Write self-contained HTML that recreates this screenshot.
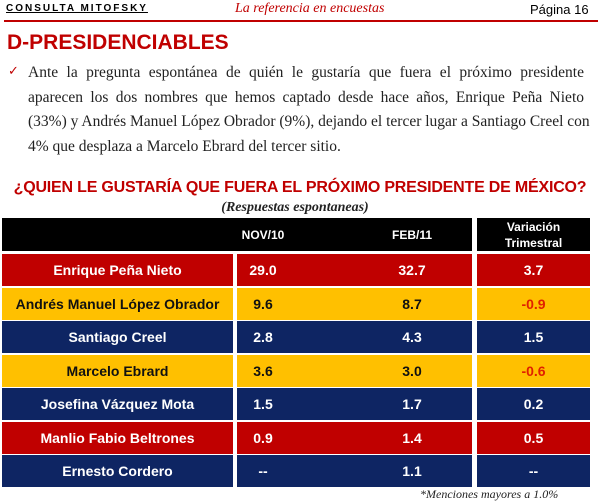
<!DOCTYPE html>
<html><head><meta charset="utf-8"><style>
body{margin:0;width:600px;height:504px;background:#fff;position:relative;overflow:hidden;font-family:"Liberation Sans",sans-serif}
.a{position:absolute}
.row div{position:absolute;display:flex;align-items:center;justify-content:center;font-weight:bold;font-size:14px;color:#fff}
.r{background:#c00000}.y{background:#ffc000}.n{background:#0e2563}
.y div,div.y{color:#111}
p.t{margin:0;font-family:"Liberation Serif",serif;font-size:15.5px;color:#222;text-align:justify;text-align-last:justify;line-height:24.5px;white-space:nowrap}
</style></head><body>
<div class="a" style="left:6px;top:3px;font-size:10px;font-weight:bold;letter-spacing:2px;text-decoration:underline">CONSULTA MITOFSKY</div>
<div class="a" style="left:235px;top:1px;font-family:'Liberation Serif',serif;font-style:italic;font-size:14px;color:#c00000">La referencia en encuestas</div>
<div class="a" style="left:530px;top:2px;font-size:13px">Página 16</div>
<div class="a" style="left:4px;top:20px;width:594px;height:2px;background:#c00000"></div>
<div class="a" style="left:7px;top:31px;font-size:21px;font-weight:bold;color:#c00000">D-PRESIDENCIABLES</div>
<div class="a" style="left:8px;top:63px;color:#c00000;font-size:13px">✓</div>
<div class="a" style="left:28px;top:61px;width:556px">
<p class="t">Ante la pregunta espontánea de quién le gustaría que fuera el próximo presidente</p>
<p class="t">aparecen los dos nombres que hemos captado desde hace años, Enrique Peña Nieto</p>
<p class="t">(33%) y Andrés Manuel López Obrador (9%), dejando el tercer lugar a Santiago Creel con</p>
<p class="t" style="text-align-last:left">4% que desplaza a Marcelo Ebrard del tercer sitio.</p>
</div>
<div class="a" style="left:0;width:600px;top:179px;text-align:center;font-size:16px;font-weight:bold;color:#c00000;white-space:nowrap;letter-spacing:-0.2px">¿QUIEN LE GUSTARÍA QUE FUERA EL PRÓXIMO PRESIDENTE DE MÉXICO?</div>
<div class="a" style="left:0;width:600px;top:200px;text-align:center;font-family:'Liberation Serif',serif;font-style:italic;font-weight:bold;font-size:14px;color:#222;padding-right:10px;box-sizing:border-box">(Respuestas espontaneas)</div>
<div class="a row" style="top:218px;left:0;width:600px;height:33px">
<div style="left:2px;width:470px;height:33px;background:#000"></div>
<div style="left:477px;width:113px;height:33px;background:#000;font-size:12px;line-height:16px;text-align:center">Variación<br>Trimestral</div>
<div style="left:223px;width:80px;height:33px;font-size:12px">NOV/10</div>
<div style="left:372px;width:80px;height:33px;font-size:12px">FEB/11</div>
</div>
<div class="a row" style="top:254px;left:0;width:600px;height:32px">
<div class="r" style="left:2px;width:231px;height:32px">Enrique Peña Nieto</div><div class="r" style="left:237px;width:235px;height:32px"></div><div class="r" style="left:477px;width:113px;height:32px">3.7</div>
<div style="left:238px;width:50px;height:32px">29.0</div><div style="left:387px;width:50px;height:32px">32.7</div></div>
<div class="a row" style="top:288px;left:0;width:600px;height:32px">
<div class="y" style="left:2px;width:231px;height:32px">Andrés Manuel López Obrador</div><div class="y" style="left:237px;width:235px;height:32px"></div><div class="y" style="left:477px;width:113px;height:32px;color:#e02000">-0.9</div>
<div style="left:238px;width:50px;height:32px;color:#111">9.6</div><div style="left:387px;width:50px;height:32px;color:#111">8.7</div></div>
<div class="a row" style="top:321px;left:0;width:600px;height:32px">
<div class="n" style="left:2px;width:231px;height:32px">Santiago Creel</div><div class="n" style="left:237px;width:235px;height:32px"></div><div class="n" style="left:477px;width:113px;height:32px">1.5</div>
<div style="left:238px;width:50px;height:32px">2.8</div><div style="left:387px;width:50px;height:32px">4.3</div></div>
<div class="a row" style="top:355px;left:0;width:600px;height:32px">
<div class="y" style="left:2px;width:231px;height:32px">Marcelo Ebrard</div><div class="y" style="left:237px;width:235px;height:32px"></div><div class="y" style="left:477px;width:113px;height:32px;color:#e02000">-0.6</div>
<div style="left:238px;width:50px;height:32px;color:#111">3.6</div><div style="left:387px;width:50px;height:32px;color:#111">3.0</div></div>
<div class="a row" style="top:388px;left:0;width:600px;height:32px">
<div class="n" style="left:2px;width:231px;height:32px">Josefina Vázquez Mota</div><div class="n" style="left:237px;width:235px;height:32px"></div><div class="n" style="left:477px;width:113px;height:32px">0.2</div>
<div style="left:238px;width:50px;height:32px">1.5</div><div style="left:387px;width:50px;height:32px">1.7</div></div>
<div class="a row" style="top:422px;left:0;width:600px;height:32px">
<div class="r" style="left:2px;width:231px;height:32px">Manlio Fabio Beltrones</div><div class="r" style="left:237px;width:235px;height:32px"></div><div class="r" style="left:477px;width:113px;height:32px">0.5</div>
<div style="left:238px;width:50px;height:32px">0.9</div><div style="left:387px;width:50px;height:32px">1.4</div></div>
<div class="a row" style="top:455px;left:0;width:600px;height:32px">
<div class="n" style="left:2px;width:231px;height:32px">Ernesto Cordero</div><div class="n" style="left:237px;width:235px;height:32px"></div><div class="n" style="left:477px;width:113px;height:32px">--</div>
<div style="left:238px;width:50px;height:32px">--</div><div style="left:387px;width:50px;height:32px">1.1</div></div>
<div class="a" style="left:420px;top:487px;font-family:'Liberation Serif',serif;font-style:italic;font-size:12px;color:#222">*Menciones mayores a 1.0%</div>
</body></html>
